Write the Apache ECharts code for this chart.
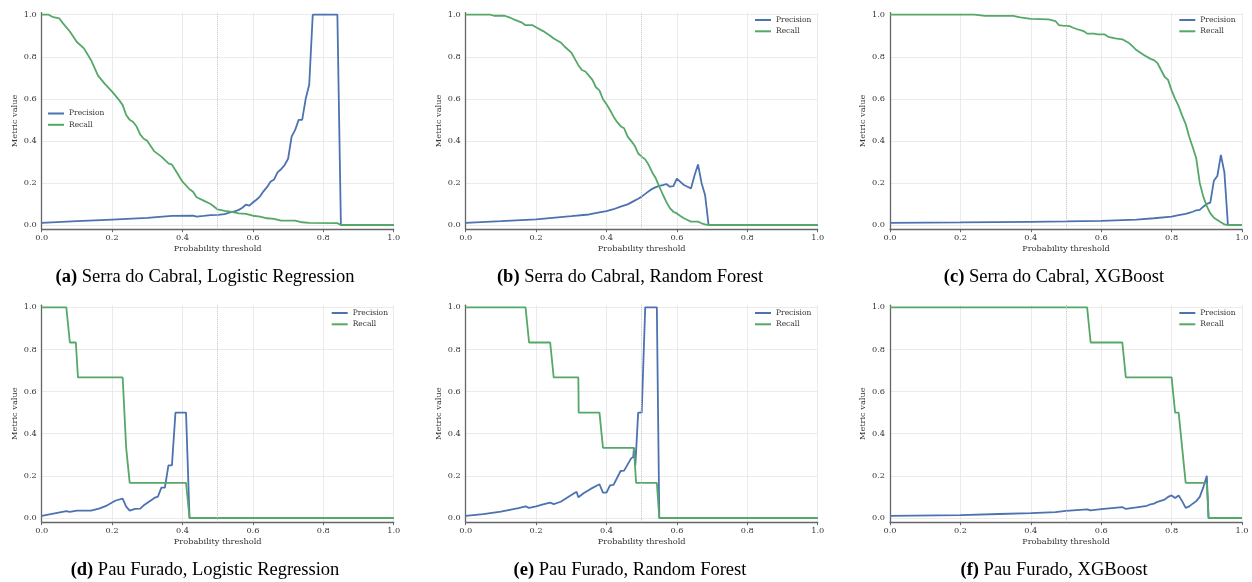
<!DOCTYPE html>
<html>
<head>
<meta charset="utf-8">
<script src="https://cdn.jsdelivr.net/npm/echarts@6/dist/echarts.min.js"></script>
<style>
html,body{margin:0;padding:0;background:#fff;}
#chart{width:1252px;height:582px;}
</style>
</head>
<body>
<div id="chart"></div>
<script>
// ---------- data ----------
const xTicks = [0, 0.2, 0.4, 0.6, 0.8, 1.0];
const yTicks = [0, 0.2, 0.4, 0.6, 0.8, 1.0];
const seriesNames = ['Precision', 'Recall'];
const captionLetters = ['(a)', '(b)', '(c)', '(d)', '(e)', '(f)'];
const captionTexts = [
  'Serra do Cabral, Logistic Regression',
  'Serra do Cabral, Random Forest',
  'Serra do Cabral, XGBoost',
  'Pau Furado, Logistic Regression',
  'Pau Furado, Random Forest',
  'Pau Furado, XGBoost'
];

// [threshold, value]
const precisionA = [[0,0.01],[0.1,0.018],[0.2,0.026],[0.3,0.034],[0.37,0.043],[0.43,0.045],[0.44,0.04],[0.46,0.043],[0.48,0.047],[0.50,0.048],[0.52,0.052],[0.53,0.058],[0.55,0.066],[0.56,0.072],[0.57,0.082],[0.58,0.097],[0.59,0.092],[0.60,0.107],[0.61,0.12],[0.62,0.135],[0.63,0.16],[0.64,0.18],[0.65,0.206],[0.66,0.216],[0.67,0.25],[0.68,0.265],[0.69,0.285],[0.70,0.315],[0.71,0.42],[0.72,0.452],[0.73,0.50],[0.74,0.50],[0.75,0.6],[0.76,0.667],[0.77,1.0],[0.84,1.0],[0.85,0],[1,0]];
const recallA = [[0,1],[0.02,1],[0.03,0.99],[0.05,0.982],[0.06,0.96],[0.08,0.92],[0.10,0.87],[0.12,0.84],[0.14,0.785],[0.16,0.71],[0.18,0.67],[0.20,0.634],[0.22,0.594],[0.23,0.57],[0.24,0.523],[0.25,0.50],[0.26,0.49],[0.27,0.467],[0.28,0.43],[0.29,0.41],[0.30,0.40],[0.31,0.375],[0.32,0.35],[0.34,0.325],[0.36,0.293],[0.37,0.287],[0.38,0.26],[0.40,0.206],[0.42,0.17],[0.43,0.158],[0.44,0.132],[0.46,0.116],[0.48,0.10],[0.50,0.074],[0.52,0.067],[0.54,0.062],[0.56,0.055],[0.58,0.053],[0.60,0.044],[0.62,0.04],[0.64,0.032],[0.66,0.029],[0.68,0.021],[0.72,0.021],[0.74,0.013],[0.76,0.01],[0.84,0.009],[0.85,0],[1,0]];

const precisionB = [[0,0.01],[0.1,0.018],[0.2,0.027],[0.3,0.042],[0.35,0.05],[0.38,0.06],[0.40,0.066],[0.42,0.075],[0.44,0.087],[0.46,0.098],[0.48,0.116],[0.49,0.125],[0.50,0.135],[0.51,0.148],[0.52,0.16],[0.53,0.172],[0.54,0.18],[0.55,0.186],[0.56,0.19],[0.57,0.195],[0.58,0.182],[0.59,0.185],[0.60,0.22],[0.61,0.205],[0.62,0.19],[0.63,0.182],[0.64,0.174],[0.65,0.235],[0.66,0.288],[0.67,0.2],[0.68,0.143],[0.69,0],[1,0]];
const recallB = [[0,1],[0.07,1],[0.08,0.995],[0.11,0.995],[0.12,0.99],[0.13,0.983],[0.14,0.975],[0.16,0.962],[0.17,0.95],[0.19,0.95],[0.20,0.94],[0.22,0.922],[0.24,0.90],[0.25,0.887],[0.27,0.868],[0.28,0.85],[0.30,0.82],[0.31,0.79],[0.32,0.76],[0.33,0.737],[0.34,0.73],[0.35,0.71],[0.36,0.69],[0.37,0.655],[0.38,0.64],[0.39,0.598],[0.40,0.574],[0.41,0.547],[0.42,0.515],[0.43,0.49],[0.44,0.47],[0.45,0.46],[0.46,0.42],[0.47,0.40],[0.48,0.377],[0.49,0.34],[0.50,0.325],[0.51,0.312],[0.52,0.285],[0.53,0.25],[0.54,0.222],[0.55,0.182],[0.56,0.145],[0.57,0.11],[0.58,0.08],[0.59,0.063],[0.60,0.055],[0.61,0.043],[0.62,0.032],[0.63,0.024],[0.64,0.016],[0.66,0.016],[0.67,0.008],[0.68,0.003],[0.69,0],[1,0]];

const precisionC = [[0,0.01],[0.2,0.012],[0.4,0.015],[0.5,0.017],[0.6,0.02],[0.7,0.026],[0.75,0.032],[0.8,0.04],[0.82,0.047],[0.84,0.053],[0.85,0.058],[0.86,0.063],[0.87,0.07],[0.88,0.072],[0.89,0.087],[0.90,0.1],[0.91,0.106],[0.92,0.21],[0.93,0.233],[0.94,0.333],[0.95,0.25],[0.96,0],[1,0]];
const recallC = [[0,1],[0.24,1],[0.27,0.994],[0.35,0.994],[0.37,0.987],[0.40,0.98],[0.45,0.978],[0.47,0.97],[0.48,0.95],[0.49,0.948],[0.51,0.946],[0.52,0.938],[0.53,0.932],[0.55,0.922],[0.56,0.91],[0.58,0.91],[0.59,0.906],[0.61,0.906],[0.62,0.895],[0.64,0.887],[0.66,0.883],[0.68,0.864],[0.69,0.848],[0.70,0.832],[0.72,0.81],[0.74,0.79],[0.75,0.784],[0.76,0.77],[0.77,0.737],[0.78,0.705],[0.79,0.69],[0.80,0.64],[0.81,0.60],[0.82,0.565],[0.83,0.52],[0.84,0.48],[0.85,0.42],[0.86,0.37],[0.87,0.317],[0.88,0.2],[0.89,0.135],[0.90,0.09],[0.91,0.055],[0.92,0.035],[0.93,0.024],[0.94,0.013],[0.95,0.003],[0.96,0],[1,0]];

const precisionD = [[0,0.01],[0.07,0.033],[0.08,0.029],[0.1,0.035],[0.105,0.027],[0.14,0.035],[0.165,0.046],[0.185,0.059],[0.21,0.083],[0.23,0.092],[0.24,0.054],[0.25,0.035],[0.265,0.043],[0.28,0.044],[0.29,0.06],[0.31,0.083],[0.32,0.095],[0.33,0.101],[0.34,0.144],[0.35,0.144],[0.36,0.25],[0.37,0.25],[0.38,0.5],[0.41,0.5],[0.42,0],[1,0]];
const recallD = [[0,1],[0.07,1],[0.08,0.833],[0.097,0.833],[0.103,0.667],[0.23,0.667],[0.24,0.333],[0.25,0.167],[0.41,0.167],[0.42,0],[1,0]];

const precisionE = [[0,0.01],[0.05,0.018],[0.1,0.03],[0.15,0.047],[0.17,0.055],[0.18,0.048],[0.2,0.055],[0.22,0.065],[0.24,0.073],[0.25,0.066],[0.27,0.077],[0.28,0.088],[0.30,0.109],[0.315,0.125],[0.32,0.098],[0.335,0.117],[0.355,0.138],[0.38,0.16],[0.39,0.12],[0.40,0.12],[0.41,0.155],[0.42,0.157],[0.44,0.223],[0.45,0.225],[0.47,0.283],[0.476,0.29],[0.478,0.333],[0.482,0.25],[0.49,0.5],[0.50,0.5],[0.51,1],[0.543,1],[0.55,0],[1,0]];
const recallE = [[0,1],[0.17,1],[0.18,0.833],[0.24,0.833],[0.25,0.667],[0.32,0.667],[0.321,0.5],[0.38,0.5],[0.39,0.333],[0.478,0.333],[0.484,0.167],[0.543,0.167],[0.55,0],[1,0]];

const precisionF = [[0,0.01],[0.2,0.014],[0.31,0.019],[0.4,0.023],[0.47,0.028],[0.5,0.034],[0.56,0.041],[0.57,0.036],[0.6,0.042],[0.66,0.052],[0.67,0.043],[0.7,0.05],[0.73,0.058],[0.74,0.065],[0.75,0.068],[0.76,0.077],[0.78,0.087],[0.79,0.1],[0.80,0.107],[0.81,0.095],[0.82,0.107],[0.83,0.08],[0.84,0.048],[0.85,0.055],[0.86,0.068],[0.87,0.08],[0.88,0.1],[0.89,0.145],[0.90,0.2],[0.905,0],[1,0]];
const recallF = [[0,1],[0.56,1],[0.57,0.833],[0.66,0.833],[0.67,0.667],[0.80,0.667],[0.81,0.5],[0.82,0.5],[0.84,0.167],[0.90,0.167],[0.905,0],[1,0]];

const defaultThreshold = 0.5;

// ---------- layout / style ----------
const precisionSets = [precisionA, precisionB, precisionC, precisionD, precisionE, precisionF];
const recallSets = [recallA, recallB, recallC, recallD, recallE, recallF];
const colLeft = [41.7, 465.7, 890];
const plotW = 352;
const rowTop = [12.6, 305.2];
const rowH = [216.6, 217];
const captionX = [205, 630, 1054];
const captionY = [277, 570.5];
const legendPos = [
  {left: 48, top: 109},
  {left: 755, top: 15.5},
  {left: 1179.3, top: 15.5},
  {left: 331.7, top: 308.5},
  {left: 755, top: 308.5},
  {left: 1179.3, top: 308.5}
];
const BLUE = '#4c72b0', GREEN = '#55a868';
const AX_FONT = 'DejaVu Serif';
const AX_SIZE = 8.2;
const fmt = v => (Math.round(v * 10) / 10).toFixed(1);

const grid = [], xAxis = [], yAxis = [], series = [], legend = [], graphic = [];
for (let i = 0; i < 6; i++) {
  const r = Math.floor(i / 3), c = i % 3;
  grid.push({left: colLeft[c], top: rowTop[r], width: plotW, height: rowH[r], containLabel: false});
  xAxis.push({
    type: 'value', gridIndex: i, min: 0, max: 1, interval: 0.2,
    name: 'Probability threshold', nameLocation: 'middle', nameGap: 15.5,
    nameTextStyle: {fontFamily: AX_FONT, fontSize: AX_SIZE, color: '#333'},
    axisLine: {show: true, onZero: false, lineStyle: {color: '#666', width: 1.3}},
    axisTick: {show: true, length: 3, lineStyle: {color: '#666', width: 1}},
    axisLabel: {fontFamily: AX_FONT, fontSize: AX_SIZE, color: '#333', margin: 5, formatter: fmt, showMinLabel: true, showMaxLabel: true},
    splitLine: {show: true, lineStyle: {color: '#e6e6e6', width: 0.8}}
  });
  yAxis.push({
    type: 'value', gridIndex: i, min: -0.02, max: 1.01,
    name: 'Metric value', nameLocation: 'middle', nameGap: 23,
    nameTextStyle: {fontFamily: AX_FONT, fontSize: AX_SIZE, color: '#333'},
    axisLine: {show: true, onZero: false, lineStyle: {color: '#666', width: 1.3}},
    axisTick: {show: false, customValues: yTicks},
    axisLabel: {fontFamily: AX_FONT, fontSize: AX_SIZE, color: '#333', margin: 5, formatter: fmt, customValues: yTicks},
    splitLine: {show: true, lineStyle: {color: '#e6e6e6', width: 0.8}}
  });
  series.push({
    name: seriesNames[0], type: 'line', xAxisIndex: i, yAxisIndex: i,
    data: precisionSets[i], showSymbol: false, symbol: 'none',
    lineStyle: {color: BLUE, width: 1.8}, itemStyle: {color: BLUE},
    animation: false, z: 3,
    markLine: {
      silent: true, symbol: ['none', 'none'], animation: false,
      label: {show: false},
      lineStyle: {type: 'dotted', color: '#c4c4c4', width: 1},
      data: [{xAxis: defaultThreshold}]
    }
  });
  series.push({
    name: seriesNames[1], type: 'line', xAxisIndex: i, yAxisIndex: i,
    data: recallSets[i], showSymbol: false, symbol: 'none',
    lineStyle: {color: GREEN, width: 1.8}, itemStyle: {color: GREEN},
    animation: false, z: 4
  });
  legend.push({
    data: seriesNames, orient: 'vertical', left: legendPos[i].left, top: legendPos[i].top,
    padding: 0, itemGap: 2.3, itemWidth: 16, itemHeight: 2, icon: 'rect',
    textStyle: {fontFamily: AX_FONT, fontSize: 7.5, color: '#333', lineHeight: 9},
    selectedMode: false
  });
  graphic.push({
    type: 'text', x: captionX[c], y: captionY[r],
    style: {
      text: '{b|' + captionLetters[i] + '} ' + captionTexts[i],
      textAlign: 'center', textVerticalAlign: 'middle',
      font: '18.5px "Liberation Serif"', fill: '#000',
      rich: {b: {fontWeight: 'bold', fontFamily: 'Liberation Serif', fontSize: 18.5, fill: '#000'}}
    }
  });
}

const chart = echarts.init(document.getElementById('chart'), null, {renderer: 'canvas'});
chart.setOption({
  animation: false,
  backgroundColor: '#fff',
  grid, xAxis, yAxis, series, legend, graphic
});
</script>
</body>
</html>
